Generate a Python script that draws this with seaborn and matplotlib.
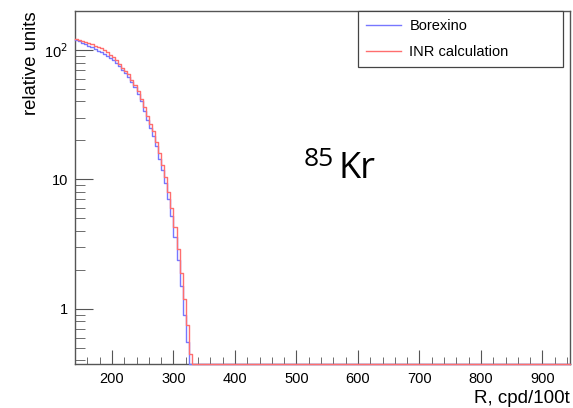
# 85Kr radial distribution: Borexino vs INR calculation (log scale, step histograms)
import numpy as np
import pandas as pd
import seaborn as sns
import matplotlib.pyplot as plt
from matplotlib.ticker import FixedLocator, MultipleLocator, FuncFormatter

# bin edges, width 5 from 140
bin_lo = list(range(140, 340, 5))
# INR calculation (red)
inr = [121, 119, 117, 115, 113, 111, 108, 106, 103, 100,
       96, 92, 88, 83, 78, 73, 69, 65, 59, 54,
       48, 42, 36, 31, 27, 23.5, 19.5, 16, 13, 10.5,
       8.0, 6.0, 4.3, 2.9, 1.9, 1.2, 0.75, 0.45, 0, 0]
# Borexino (blue)
borexino = [120, 117, 114, 111, 108, 105, 102, 99, 96, 93,
            90, 86, 83, 79, 75, 70, 66, 62, 57, 52,
            46, 40, 34, 29, 25, 21.5, 18, 14.5, 11.8, 9.3,
            7.0, 5.2, 3.6, 2.4, 1.5, 0.9, 0.55, 0, 0, 0]

xmin, xmax = 140, 945
ymin, ymax = 0.375, 200

plt.rcParams['font.family'] = ['Liberation Sans', 'DejaVu Sans']

fig = plt.figure(figsize=(5.73, 4.08), dpi=100)
ax = fig.add_axes([0.131, 0.108, 0.864, 0.865])

rows = []
for name, vals in [("Borexino", borexino), ("INR calculation", inr)]:
    # extend to the axis end so empty bins run along the frame bottom, like ROOT
    xs = bin_lo + [bin_lo[-1] + 5, xmax]
    ys = list(vals) + [0, 0]
    ys = [v if v > 0 else ymin for v in ys]
    for x, y in zip(xs, ys):
        rows.append({"R": x, "val": y, "src": name})
df = pd.DataFrame(rows)

sns.lineplot(data=df, x="R", y="val", hue="src", drawstyle="steps-post",
             palette={"Borexino": "#7777ff", "INR calculation": "#ff6e6e"},
             linewidth=1.0, ax=ax, legend=False, estimator=None, sort=False)
for ln in ax.get_lines():
    ln.set_clip_on(False)
    ln.set_zorder(3)

ax.set_yscale("log")
ax.set_xlim(xmin, xmax)
ax.set_ylim(ymin, ymax)

frame = "#555555"
for s in ax.spines.values():
    s.set_color(frame)
    s.set_linewidth(1.0)

ax.xaxis.set_major_locator(MultipleLocator(100))
ax.xaxis.set_minor_locator(MultipleLocator(20))
ax.yaxis.set_major_locator(FixedLocator([1, 10, 100]))
ax.yaxis.set_major_formatter(FuncFormatter(
    lambda v, p: {1: "1", 10: "10", 100: r"10$^{2}$"}.get(int(round(v)), "")))
ax.tick_params(axis="both", which="both", direction="in", colors=frame,
               labelcolor="black", labelsize=10.5, top=False, right=False)
ax.tick_params(axis="x", which="major", length=10, pad=6)
ax.tick_params(axis="x", which="minor", length=5)
ax.tick_params(axis="y", which="major", length=13, pad=5)
ax.tick_params(axis="y", which="minor", length=7)

ax.set_xlabel("R, cpd/100t", fontsize=13.5, loc="right", labelpad=3)
ax.set_ylabel("relative units", fontsize=13.3, loc="top", labelpad=3)

# legend box in the upper right
ax.plot([], [], color="#7777ff", lw=1.0, label="Borexino")
ax.plot([], [], color="#ff6e6e", lw=1.0, label="INR calculation")
leg = ax.legend(loc="upper left", bbox_to_anchor=(0.572, 1.0, 0.414, 0.0),
                mode="expand", fontsize=10.5,
                frameon=True, fancybox=False, borderpad=0.55, handlelength=2.4,
                labelspacing=0.85, borderaxespad=0, handletextpad=0.55)
leg.get_frame().set_edgecolor("#444444")
leg.get_frame().set_linewidth(0.9)
leg.get_frame().set_alpha(1)

ax.text(0.462, 0.562, "85", transform=ax.transAxes, fontsize=19,
        family="Open Sans", va="baseline")
ax.text(0.533, 0.527, "Kr", transform=ax.transAxes, fontsize=26,
        family="Open Sans", va="baseline")

plt.savefig("out.png", dpi=100)
